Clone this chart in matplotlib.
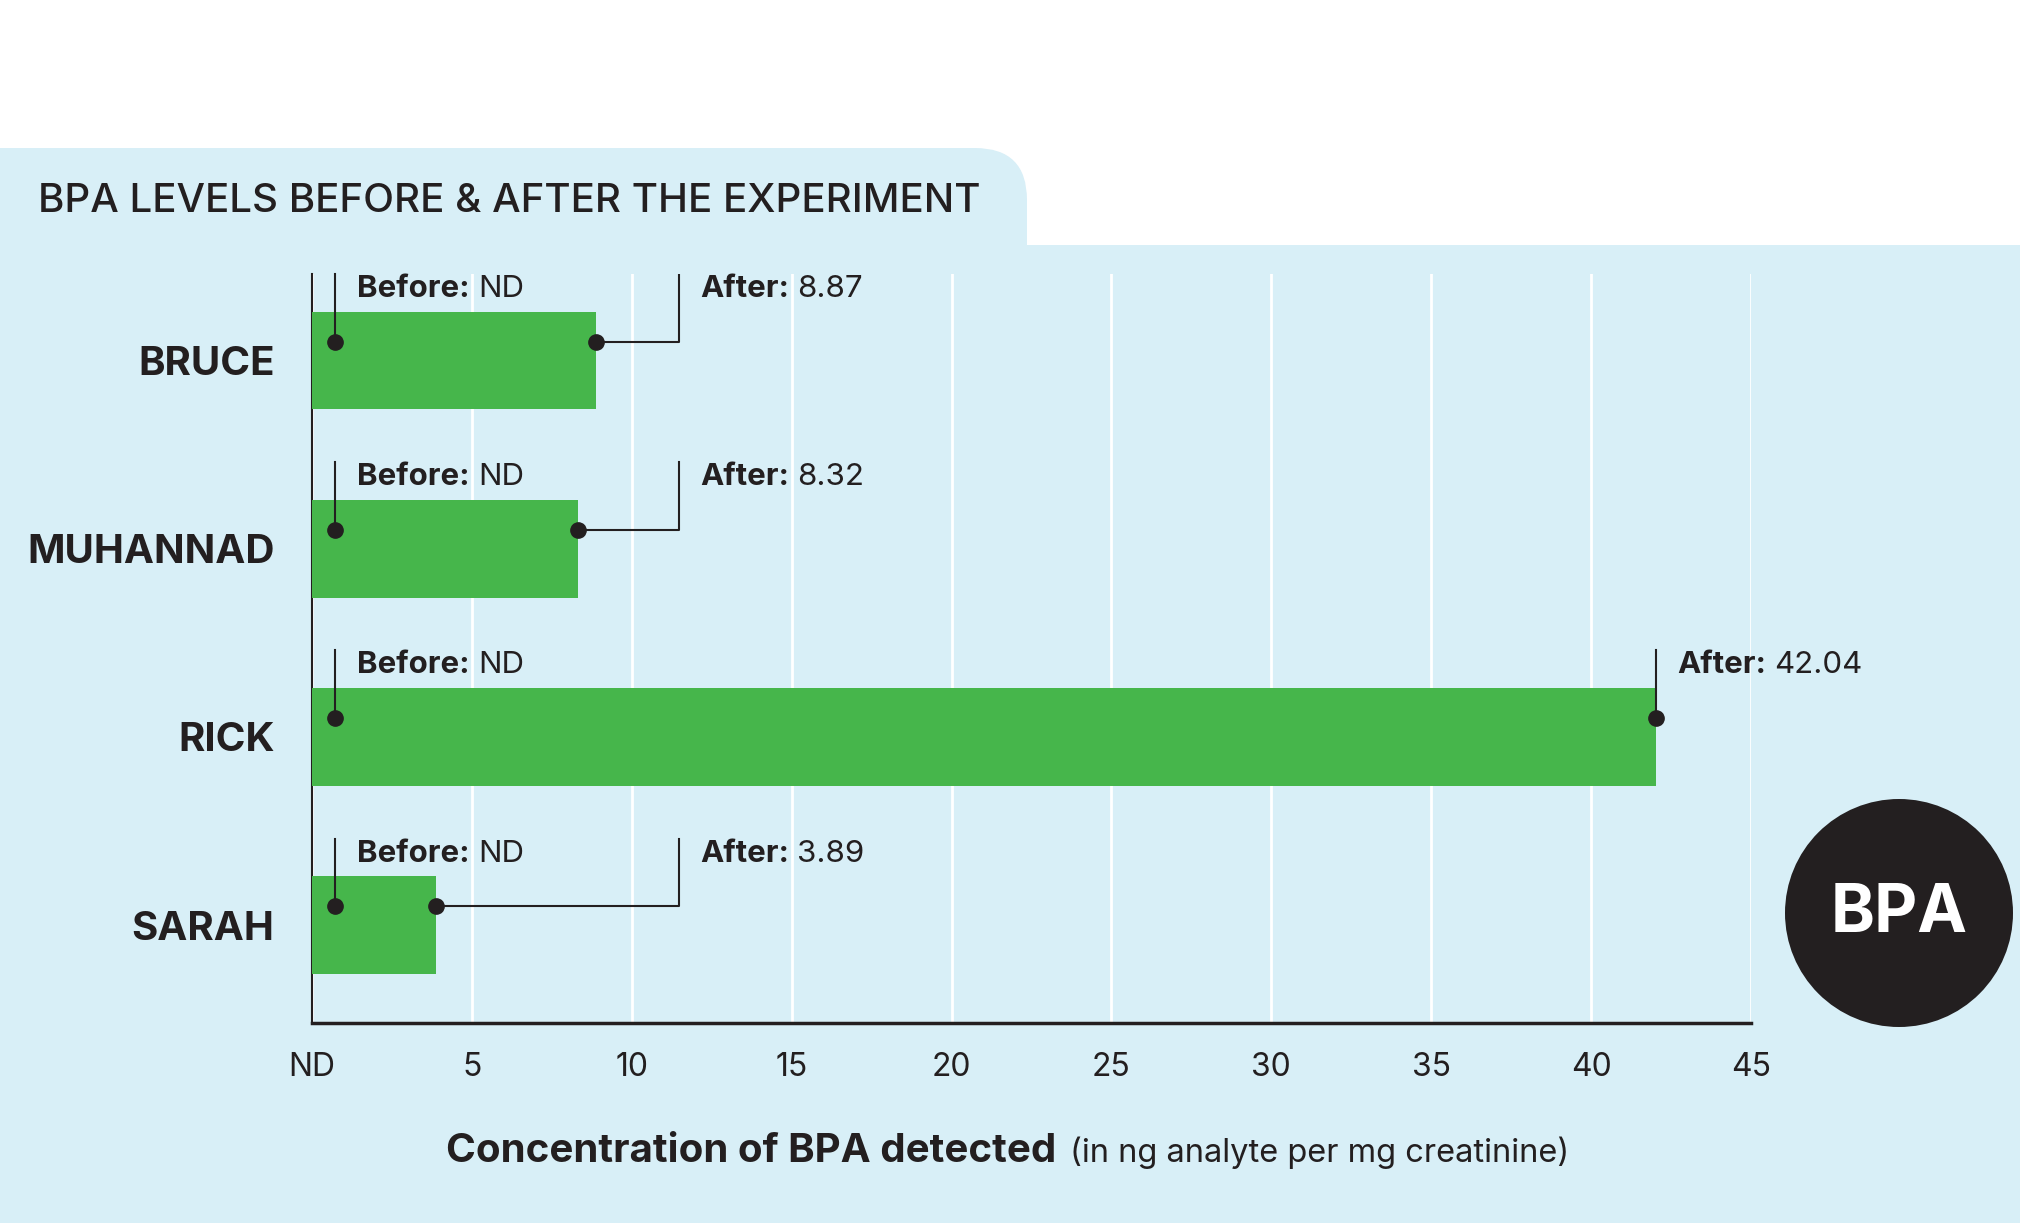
import matplotlib.pyplot as plt
from matplotlib.patches import FancyBboxPatch, Rectangle, Circle

plt.rcParams['font.family'] = ['Inter', 'DejaVu Sans']

# data
names = ['BRUCE', 'MUHANNAD', 'RICK', 'SARAH']
before_labels = ['ND', 'ND', 'ND', 'ND']
after_vals = [8.87, 8.32, 42.04, 3.89]
tick_vals = [0, 5, 10, 15, 20, 25, 30, 35, 40, 45]
tick_labels = ['ND', '5', '10', '15', '20', '25', '30', '35', '40', '45']

BG = '#d8eff7'
GREEN = '#46b64b'
DARK = '#231f20'
W, H = 2020, 1223

fig = plt.figure(figsize=(W / 100, H / 100), dpi=100)
fig.patch.set_facecolor('white')

# background shapes in pixel coords
bg = fig.add_axes([0, 0, 1, 1], zorder=0)
bg.set_xlim(0, W)
bg.set_ylim(H, 0)
bg.axis('off')
bg.add_patch(FancyBboxPatch((-200, 148), 1227, 1300,
                            boxstyle='round,pad=0,rounding_size=52',
                            fc=BG, ec='none'))
bg.add_patch(Rectangle((0, 245), W, H, fc=BG, ec='none'))
bg.add_patch(Circle((1899, 913), 114, fc=DARK, ec='none'))
bg.text(1899, 915, 'BPA', color='white', fontsize=48, fontweight='bold',
        ha='center', va='center')

fig.text(38 / W, 1 - 202 / H, 'BPA LEVELS BEFORE & AFTER THE EXPERIMENT',
         fontsize=29, color=DARK, fontweight='medium', va='center')

# main chart
ax = fig.add_axes([312 / W, 1 - 1023 / H, (1751 - 312) / W, (1023 - 274) / H], zorder=1)
ax.set_facecolor('none')
ypos = list(range(len(names)))
ax.barh(ypos, after_vals, height=0.52, color=GREEN, zorder=3)

ax.set_xlim(0, 45)
ax.set_ylim(3.52, -0.46)
ax.set_xticks(tick_vals)
ax.set_xticklabels(tick_labels, fontsize=23, color=DARK)
ax.set_yticks(ypos)
ax.set_yticklabels(names, fontsize=29, fontweight='bold', color=DARK)
ax.tick_params(axis='both', length=0)
ax.tick_params(axis='x', pad=21)
ax.tick_params(axis='y', pad=27)
ax.grid(axis='x', color='white', lw=2, zorder=0)
ax.set_axisbelow(True)
for s in ['top', 'right']:
    ax.spines[s].set_visible(False)
ax.spines['left'].set_color(DARK)
ax.spines['left'].set_linewidth(1.5)
ax.spines['bottom'].set_color(DARK)
ax.spines['bottom'].set_linewidth(2.5)

ND_X = 0.73      # where the "ND" marker sits
ELBOW = 11.48    # x of the bent leader for short bars
DOT_DY = -0.1
TOP_DY = -0.46
TXT_DY = -0.38

fig.canvas.draw()
renderer = fig.canvas.get_renderer()


def two_part(x, y, bold, reg, size):
    t = ax.text(x, y, bold, fontsize=size, fontweight='bold', color=DARK,
                va='center', ha='left', zorder=6)
    ax.annotate(reg, xy=(1, 0.5), xycoords=t, xytext=(6, 0), textcoords='offset points',
                fontsize=size, color=DARK, va='center', ha='left', zorder=6)


for i in ypos:
    yd = i + DOT_DY
    # before marker
    ax.plot([ND_X, ND_X], [yd, i + TOP_DY], color=DARK, lw=1.5, zorder=4, clip_on=False)
    ax.plot(ND_X, yd, 'o', ms=11, color=DARK, zorder=5)
    two_part(1.41, i + TXT_DY, 'Before:', before_labels[i], 22.5)
    # after marker
    v = after_vals[i]
    if v < ELBOW:
        ax.plot([v, ELBOW, ELBOW], [yd, yd, i + TOP_DY], color=DARK, lw=1.5, zorder=4)
        tx = ELBOW + 0.65
    else:
        ax.plot([v, v], [yd, i + TOP_DY], color=DARK, lw=1.5, zorder=4)
        tx = v + 0.65
    ax.plot(v, yd, 'o', ms=11, color=DARK, zorder=5)
    two_part(tx, i + TXT_DY, 'After:', f'{v:.2f}', 22.5)

# axis title: bold part + smaller regular part
t1 = fig.text(446 / W, 1 - 1162 / H, 'Concentration of BPA detected', fontsize=29,
              fontweight='bold', color=DARK, va='baseline')
bb = t1.get_window_extent(renderer)
fig.text((bb.x1 + 14) / W, 1 - 1162 / H, '(in ng analyte per mg creatinine)',
         fontsize=23.5, color=DARK, va='baseline')

fig.savefig('out.png', dpi=100)
